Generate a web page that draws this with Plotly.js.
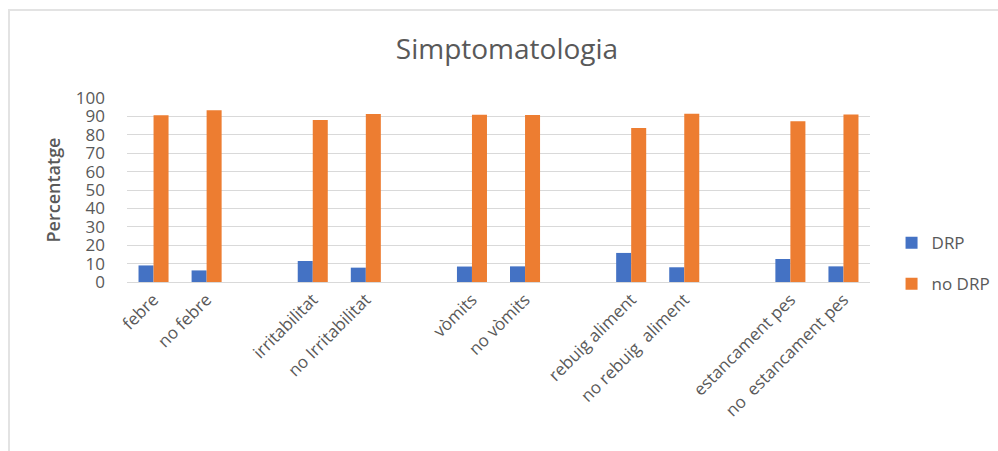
<!DOCTYPE html>
<html>
<head>
<meta charset="utf-8">
<script src="https://cdn.plot.ly/plotly-3.0.1.min.js"></script>
<style>
  html, body { margin: 0; padding: 0; background: #ffffff; }
  #wrap { position: relative; width: 998px; height: 451px; overflow: hidden; }
  #frame { position: absolute; left: 8px; top: 9px; right: -4px; bottom: -4px;
           border-top: 2px solid #e3e3e3; border-left: 2px solid #e3e3e3; pointer-events: none; }
  #chart { position: absolute; left: 0; top: 0; width: 998px; height: 451px; }
</style>
</head>
<body>
<div id="wrap">
  <div id="chart"></div>
  <div id="frame"></div>
</div>
<script>
// Symptom categories; blank entries leave a gap between each symptom pair
const categories = [
  'febre', 'no febre', ' ',
  'irritabilitat', 'no Irritabilitat', '  ',
  'vòmits', 'no vòmits', '   ',
  'rebuig aliment', 'no rebuig  aliment', '    ',
  'estancament pes', 'no  estancament pes'
];

// Percentages per category
const drp   = [9.0, 6.3, null, 11.4, 7.8, null, 8.4, 8.5, null, 15.8, 8.0, null, 12.5, 8.5];
const noDrp = [90.6, 93.3, null, 88.0, 91.3, null, 90.9, 90.8, null, 83.7, 91.5, null, 87.3, 91.1];

const seriesNames = ['DRP', 'no DRP'];
const yTicks = [0, 10, 20, 30, 40, 50, 60, 70, 80, 90, 100];

const FONT = '"Open Sans", "Noto Sans", sans-serif';
const GREY = '#595959';

const traces = [
  { type: 'bar', name: seriesNames[0], x: categories, y: drp,
    marker: { color: '#4472C4' }, legendgroup: 'a', hoverinfo: 'x+y' },
  { type: 'bar', name: seriesNames[1], x: categories, y: noDrp,
    marker: { color: '#ED7D31' }, legendgroup: 'b', hoverinfo: 'x+y' }
];

const layout = {
  width: 998, height: 451,
  margin: { l: 127, r: 128, t: 98, b: 169, autoexpand: false },
  paper_bgcolor: '#ffffff', plot_bgcolor: '#ffffff',
  font: { family: FONT, color: GREY },
  title: { text: 'Simptomatologia', font: { size: 28, color: GREY, family: FONT },
           x: 0.508, xanchor: 'center', y: 0.89, yanchor: 'middle' },
  barmode: 'group', bargap: 0.434, bargroupgap: 0,
  xaxis: {
    type: 'category', categoryorder: 'array', categoryarray: categories,
    tickangle: -45, tickfont: { size: 17, color: GREY, family: FONT },
    showgrid: false, showline: true, linecolor: '#d9d9d9', linewidth: 1,
    ticks: '', zeroline: false, fixedrange: true, automargin: false
  },
  yaxis: {
    range: [0, 100], tickvals: yTicks, ticktext: yTicks.map(String),
    tickfont: { size: 17, color: GREY, family: FONT },
    showgrid: true, gridcolor: '#d9d9d9', gridwidth: 1,
    zeroline: false, showline: false, ticks: '', ticklabelstandoff: 21,
    title: { text: 'Percentatge', font: { size: 18, color: GREY, family: FONT, weight: 600 }, standoff: 10 },
    fixedrange: true, automargin: false
  },
  showlegend: true,
  legend: {
    x: 1.029, xanchor: 'left', y: 0.10, yanchor: 'middle',
    font: { size: 17, color: GREY, family: FONT },
    traceorder: 'grouped', tracegroupgap: 16, itemwidth: 30,
    bgcolor: 'rgba(0,0,0,0)'
  }
};

Plotly.newPlot('chart', traces, layout, { displayModeBar: false, staticPlot: true });
</script>
</body>
</html>
